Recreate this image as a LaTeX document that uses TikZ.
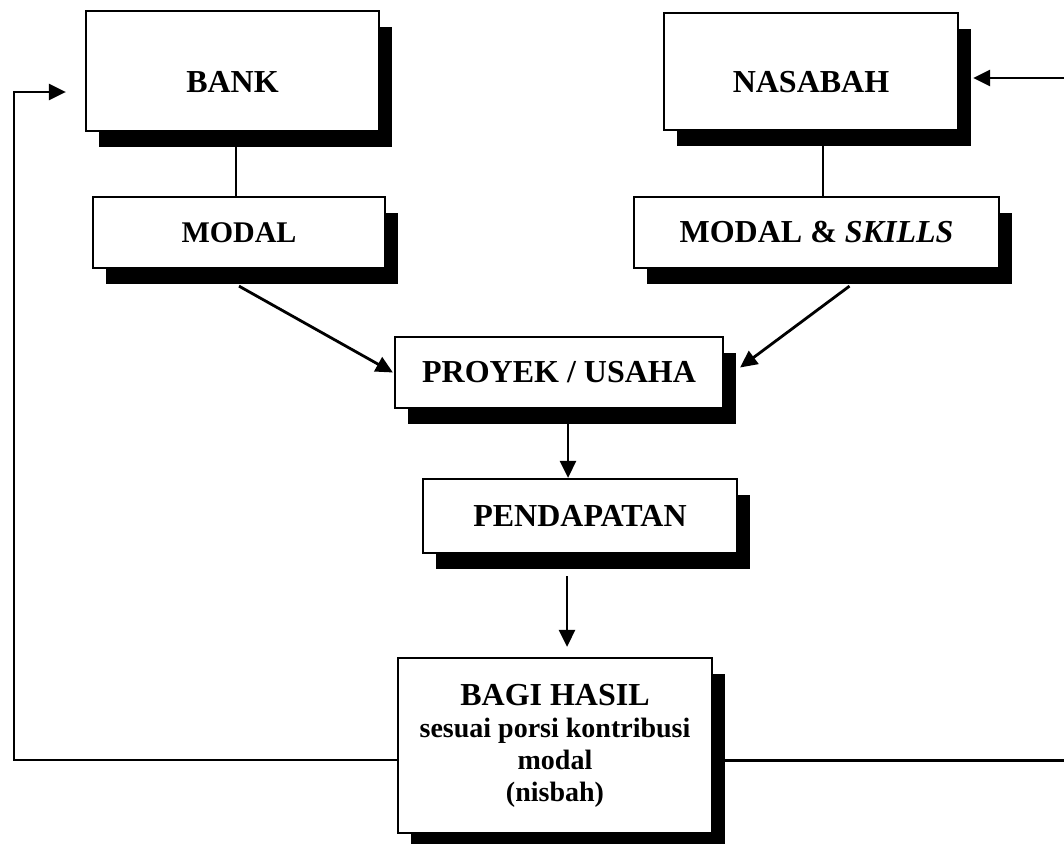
\documentclass[tikz,border=0pt]{standalone}
\usepackage{fontspec}
\setmainfont{Liberation Serif}
\usetikzlibrary{shadows,arrows.meta,calc}
\begin{document}
\begin{tikzpicture}[x=1pt,y=-1pt]
\tikzset{
 box/.style={draw, line width=2.2pt, fill=white, inner sep=0pt,
   font=\fontsize{32}{34}\selectfont\bfseries,
   drop shadow={shadow xshift=13pt, shadow yshift=-16pt, fill=black, opacity=1}},
 conn/.style={line width=2.8pt},
 arr/.style={conn, -{Triangle[length=17pt,width=16pt]}},
}
\useasboundingbox[fill=white] (0,0) rectangle (1064,843);

\node[box, minimum width=293pt, minimum height=120pt, text height=42pt, text depth=0pt] (bank) at (232.5,71) {BANK};
\node[box, minimum width=294pt, minimum height=117pt, text height=41pt, text depth=0pt] (nasabah) at (811,71.5) {NASABAH};
\node[box, minimum width=292pt, minimum height=71pt, font=\fontsize{30}{32}\selectfont\bfseries] (modal) at (239,232.5) {MODAL};
\node[box, minimum width=365pt, minimum height=71pt] (skills) at (816.5,232.5) {MODAL \& \textit{SKILLS}};
\node[box, minimum width=328pt, minimum height=71pt] (proyek) at (559,372.5) {PROYEK / USAHA};
\node[box, minimum width=314pt, minimum height=74pt] (pendapatan) at (580,516) {PENDAPATAN};
\node[box, minimum width=314pt, minimum height=175pt, align=center,
  font=\fontsize{28}{32}\selectfont\bfseries] (bagi) at (555,745.5)
  {{\fontsize{32}{32}\selectfont BAGI HASIL}\\sesuai porsi kontribusi\\modal\\(nisbah)};

% vertical links
\coordinate (b1) at ($(bank.south)+(3.5,0)$);
\draw[conn] (b1) -- (b1 |- modal.north);
\coordinate (n1) at ($(nasabah.south)+(12,0)$);
\draw[conn] (n1) -- (n1 |- skills.north);

% diagonals into proyek
\draw[arr] ($(modal.south)+(0,17)$) -- ($(proyek.west)+(-1,0)$);
\draw[arr] ($(skills.south)+(33,17)$) -- ($(proyek.east)+(16,-5)$);

% downward arrows
\coordinate (p1) at ($(pendapatan.north)+(-12,0)$);
\draw[arr] (p1 |- proyek.south) -- (p1);
\coordinate (p2) at ($(pendapatan.south)+(-13,0)$);
\draw[arr, shorten <=22pt, shorten >=10pt] (p2) -- (p2 |- bagi.north);

% feedback loops
\coordinate (l0) at ($(bagi.west)+(0,14.5)$);
\coordinate (lt) at (14,92);
\draw[arr] (l0) -| (lt) -- ($(bank.west)+(-19,21)$);
\coordinate (r0) at ($(bagi.east)+(0,15)$);
\coordinate (redge) at (1064,760.5);
\draw[conn] (r0) -- (redge);
\coordinate (rtop) at (1064,78);
\draw[arr] (rtop) -- ($(nasabah.east)+(14,6.5)$);
\end{tikzpicture}
\end{document}
